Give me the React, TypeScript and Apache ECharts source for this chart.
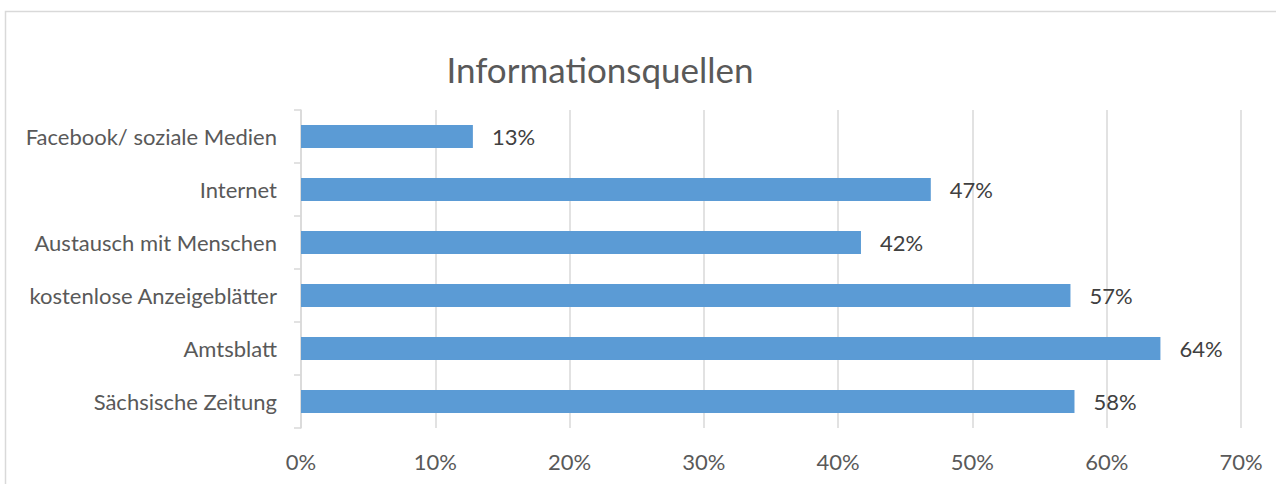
import React, { useEffect, useRef } from "react";
import * as echarts from "echarts";

const categories = [
  "Sächsische Zeitung",
  "Amtsblatt",
  "kostenlose Anzeigeblätter",
  "Austausch mit Menschen",
  "Internet",
  "Facebook/ soziale Medien",
];
const values = [0.576, 0.64, 0.573, 0.417, 0.469, 0.128];
const labels = ["58%", "64%", "57%", "42%", "47%", "13%"];
const xTicks = [0, 0.1, 0.2, 0.3, 0.4, 0.5, 0.6, 0.7];

const FONT = "Lato, 'Open Sans', sans-serif";

export default function App() {
  const ref = useRef<HTMLDivElement>(null);
  useEffect(() => {
    document.body.style.margin = "0";
    const chart = echarts.init(ref.current!, null, { renderer: "svg" });
    chart.setOption({
      animation: false,
      backgroundColor: "#ffffff",
      title: {
        text: "Informationsquellen",
        left: 595,
        top: 46,
        textAlign: "center",
        textStyle: { fontFamily: FONT, fontSize: 35, fontWeight: "normal", color: "#595959" },
      },
      graphic: [
        {
          type: "rect",
          shape: { x: 5.5, y: 11.5, width: 1300, height: 500 },
          style: { fill: "none", stroke: "#d9d9d9", lineWidth: 1.5 },
          silent: true,
        },
      ],
      grid: { left: 301, right: 35, top: 110, bottom: 56, containLabel: false },
      xAxis: {
        type: "value",
        min: 0,
        max: 0.7,
        interval: 0.1,
        axisLine: { show: false },
        axisTick: { show: false },
        splitLine: { show: true, lineStyle: { color: "#d9d9d9", width: 1.5 } },
        axisLabel: {
          margin: 22,
          fontFamily: FONT,
          fontSize: 22,
          color: "#595959",
          formatter: (v: number) => {
            const i = xTicks.findIndex((t) => Math.abs(t - v) < 1e-6);
            return i >= 0 ? Math.round(xTicks[i] * 100) + "%" : "";
          },
        },
      },
      yAxis: {
        type: "category",
        data: categories,
        axisLine: { show: true, lineStyle: { color: "#d9d9d9", width: 1.5 } },
        axisTick: { show: true, length: 7, lineStyle: { color: "#d9d9d9", width: 1.5 } },
        axisLabel: { margin: 24, fontFamily: FONT, fontSize: 22, color: "#595959" },
        splitLine: { show: false },
      },
      series: [
        {
          type: "bar",
          data: values,
          barCategoryGap: "57%",
          itemStyle: { color: "#5b9bd5" },
          label: {
            show: true,
            position: "right",
            distance: 19,
            fontFamily: FONT,
            fontSize: 22,
            color: "#404040",
            formatter: (p: any) => labels[p.dataIndex],
          },
        },
      ],
    });
    return () => chart.dispose();
  }, []);
  return <div ref={ref} style={{ width: 1276, height: 484 }} />;
}
